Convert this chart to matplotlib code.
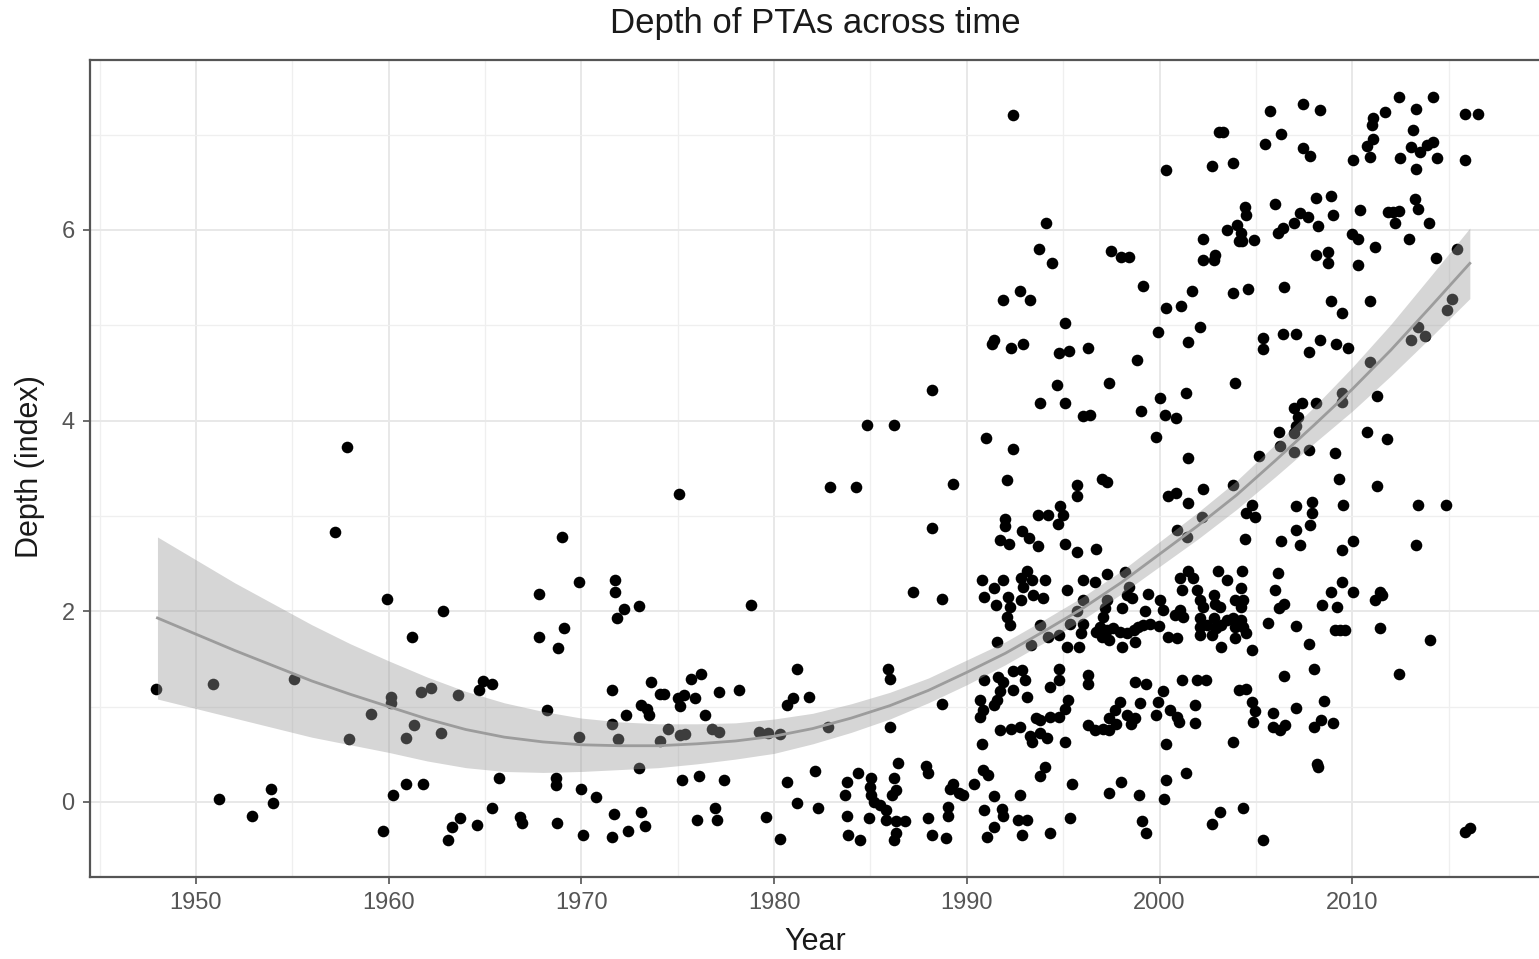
import matplotlib
matplotlib.use("Agg")
import matplotlib.pyplot as plt
import numpy as np
from matplotlib.ticker import MultipleLocator

plt.rcParams['font.family'] = ['Liberation Sans', 'DejaVu Sans']

# ---------------- data ----------------
year = [
 # 1945-1964
 1957.85,1957.2,1959.9,1962.8,1961.2,1947.9,1950.9,1955.1,1960.1,1960.1,1961.7,1962.2,1963.6,
 1959.1,1961.3,1962.7,1957.95,1960.9,1960.9,1961.8,1960.2,1951.2,1953.9,1954.0,1952.9,1959.7,
 1963.3,1963.1,1963.7,
 # 1964-1981
 1975.05,1969.0,1969.9,1967.8,1971.75,1971.75,1972.2,1971.85,1973.0,1978.8,1969.1,1967.8,1968.8,
 1964.7,1964.9,1965.35,1968.2,1971.6,1973.6,1974.1,1974.3,1973.1,1973.4,1973.5,1972.3,1971.6,
 1969.9,1971.9,1974.1,1974.5,1975.1,1975.4,1975.0,1975.3,1975.1,1975.9,1975.7,1976.2,1977.15,
 1978.2,1976.4,1976.75,1977.15,1979.2,1979.7,1980.3,1980.65,1973.0,1965.7,1968.7,1968.7,1970.0,
 1970.75,1975.2,1976.1,1977.4,1980.65,1965.35,1964.6,1966.8,1966.9,1968.75,1970.1,1971.7,1971.6,
 1972.4,1973.1,1973.3,1976.0,1976.95,1977.05,1979.6,1980.3,
 # 1980-1990
 1988.2,1984.8,1986.2,1982.9,1984.25,1989.3,1988.2,1987.2,1988.7,1981.2,1985.9,1986.0,1981.0,
 1981.8,1982.8,1986.0,1988.7,1986.45,1982.1,1984.35,1983.8,1983.7,1985.05,1984.97,1985.05,
 1985.2,1985.5,1985.8,1986.2,1986.3,1986.1,1981.2,1982.3,1983.8,1984.9,1985.8,1986.3,1986.8,
 1987.9,1988.0,1989.3,1989.6,1989.1,1989.0,1989.0,1988.0,1983.85,1984.45,1986.3,1986.2,1988.2,
 1988.9,
 # 1990-1997 upper
 1992.4,1994.1,1993.75,1994.4,1992.75,1991.85,1993.3,1995.1,1991.4,1991.3,1992.3,1992.9,
 1994.8,1995.3,1996.3,1997.35,1994.7,1993.8,1995.1,1996.05,1996.4,1991.0,1992.4,1992.1,1995.7,
 1995.7,1997.0,1997.25,1994.85,
 # 1990-1997 lower
 1995.0,1994.75,1993.7,1994.2,1992.0,1992.0,1991.7,1992.2,1992.85,1993.2,1993.7,1995.1,1995.7,
 1996.7,1990.8,1991.4,1990.9,1991.5,1991.9,1992.15,1992.25,1992.1,1992.25,1992.8,1993.1,1993.4,
 1992.9,1992.8,1994.05,1993.45,1993.95,1995.2,1996.05,1996.65,
 1991.55,1993.35,1993.8,1994.2,1994.8,1995.35,1995.7,1996.05,1995.9,1996.05,1996.7,1995.2,1995.8,
 1990.9,1991.6,1991.9,1992.4,1992.85,1993.0,1991.7,1992.4,1991.55,1990.7,1990.85,1990.7,1991.4,
 1993.1,1994.3,1994.8,1994.8,1996.3,1996.3,1995.25,1995.1,1994.8,1994.3,1993.8,1993.6,1991.7,
 1992.3,1992.75,1993.3,1993.8,1994.15,1993.4,1995.1,1996.3,1996.65,1990.8,1990.85,1991.1,
 1994.05,1993.8,1990.35,1989.8,1995.45,1991.4,1992.75,1990.9,1991.8,1991.9,1992.65,1993.1,
 1995.35,1991.4,1991.05,1992.85,1994.3,
 # 1997-2004 upper
 2003.1,2003.3,2000.35,2002.7,2003.8,2004.45,2004.5,2003.5,2004.0,2004.2,2004.1,2004.3,2002.25,
 2002.25,2002.9,2002.8,1997.5,1998.0,1998.4,1999.15,2001.7,2003.8,2004.6,2000.35,2001.1,1999.9,
 2002.1,2001.45,1998.85,2003.9,2000.0,2001.35,1999.05,2000.3,2000.85,1999.8,2001.45,2000.45,
 2000.85,2002.25,2001.5,2003.8,
 # 1997-2004 lower
 2004.5,2002.2,2000.9,2001.4,2004.45,1997.25,1998.2,1998.4,1998.3,1998.55,1999.4,2001.05,2001.5,
 2001.75,2001.15,2003.05,2003.5,2004.3,2004.2,2001.95,2002.1,2002.25,2002.8,2002.9,2003.15,
 2003.9,2004.2,2004.35,1997.25,1997.15,1997.05,1998.05,1999.25,2000.0,2000.2,2001.05,2001.2,
 2000.8,2002.1,2002.1,2002.1,2002.45,2002.8,2002.95,2002.7,2003.2,2003.5,2003.8,2003.9,2004.2,
 2004.35,2004.5,1996.9,1997.25,1997.6,1997.95,1998.3,1998.65,1998.9,1999.15,1999.5,1999.95,
 1997.0,1997.35,1998.05,1998.75,2000.45,2000.9,2003.2,2003.9,1998.75,1999.3,2001.15,2001.95,
 2002.4,2000.2,1999.9,1999.0,1997.95,1997.7,1997.4,1997.05,1997.4,1997.75,1998.3,1998.5,
 1998.75,1999.8,2000.55,2000.9,2001.0,2001.85,2001.85,2004.1,2004.5,2000.35,2003.8,2001.35,
 1998.0,1997.4,1998.95,2000.35,2000.25,1999.1,1999.3,2003.15,2002.7,2004.35,
 # 2004-2012 upper
 2005.75,2007.45,2008.3,2006.3,2005.45,2007.45,2007.8,2010.05,2011.1,2011.0,2011.1,2010.75,
 2010.9,2011.7,2006.0,2008.1,2008.9,2009.0,2010.4,2011.85,2007.3,2006.95,2006.4,2006.15,2007.7,
 2008.2,2004.9,2010.0,2010.3,2011.2,2008.1,2008.75,2008.75,2010.3,2006.45,2008.9,2009.45,
 2010.9,2005.35,2005.35,2006.4,2007.1,2008.3,2007.75,2009.15,2009.8,2010.9,2011.3,2009.45,
 2009.45,2008.1,2006.95,2007.4,2007.2,2007.1,2007.0,2006.2,2006.25,2006.95,2007.75,2009.1,
 2010.75,2011.8,2005.15,2009.3,2011.3,2004.8,2007.1,2007.9,2009.5,
 # 2004-2012 lower
 2004.95,2007.9,2007.8,2007.1,2007.3,2006.3,2009.45,2010.05,2006.15,2006.0,2006.2,2006.45,
 2005.65,2007.1,2007.75,2009.45,2008.9,2010.05,2009.2,2008.45,2011.45,2011.2,2009.1,2009.35,
 2009.6,2011.45,2004.8,2008.0,2006.45,2004.8,2004.95,2004.85,2005.9,2005.9,2006.25,2006.5,
 2007.1,2008.55,2008.0,2008.4,2009.0,2008.15,2008.2,2005.35,
 # 2011-2017
 2012.4,2014.2,2013.3,2015.85,2016.5,2013.15,2013.05,2013.5,2013.9,2014.2,2012.45,2013.3,
 2014.4,2015.85,2012.1,2012.4,2012.2,2013.25,2013.4,2014.0,2012.95,2014.35,2015.45,2015.15,
 2014.9,2013.4,2013.05,2013.75,2013.4,2014.85,2013.3,2011.55,2014.05,2012.4,2015.85,2016.1,
]

depth = [
 3.72,2.83,2.13,2.0,1.73,1.18,1.24,1.29,1.10,1.04,1.15,1.20,1.12,
 0.92,0.81,0.72,0.66,0.67,0.19,0.19,0.07,0.03,0.14,-0.01,-0.15,-0.30,
 -0.26,-0.40,-0.17,
 3.23,2.78,2.31,2.18,2.33,2.2,2.02,1.93,2.06,2.07,1.82,1.73,1.61,
 1.17,1.27,1.24,0.97,1.17,1.26,1.13,1.13,1.02,0.98,0.91,0.91,0.82,
 0.68,0.66,0.64,0.77,0.70,0.71,1.09,1.12,1.01,1.09,1.29,1.34,1.15,
 1.17,0.91,0.77,0.73,0.73,0.72,0.71,1.02,0.36,0.25,0.25,0.18,0.14,
 0.05,0.23,0.27,0.23,0.21,-0.06,-0.24,-0.16,-0.22,-0.22,-0.35,-0.13,-0.37,
 -0.30,-0.10,-0.25,-0.19,-0.06,-0.19,-0.16,-0.39,
 4.32,3.95,3.95,3.30,3.30,3.34,2.87,2.20,2.13,1.39,1.40,1.29,1.09,
 1.10,0.79,0.79,1.03,0.41,0.33,0.30,0.21,0.07,0.25,0.16,0.07,
 0.0,-0.03,-0.08,0.25,0.13,0.07,-0.01,-0.06,-0.15,-0.17,-0.19,-0.20,-0.20,
 0.38,0.30,0.19,0.09,0.14,-0.05,-0.15,-0.17,-0.35,-0.40,-0.33,-0.40,-0.35,
 -0.38,
 7.21,6.07,5.80,5.65,5.36,5.27,5.27,5.02,4.85,4.80,4.76,4.80,
 4.71,4.73,4.76,4.39,4.37,4.19,4.19,4.05,4.06,3.82,3.70,3.38,3.33,
 3.21,3.39,3.36,3.10,
 3.01,2.92,3.01,3.01,2.97,2.89,2.75,2.71,2.84,2.77,2.68,2.71,2.62,
 2.65,2.33,2.24,2.15,2.07,2.33,2.15,2.05,1.94,1.86,2.35,2.42,2.33,
 2.26,2.12,2.33,2.17,2.14,2.22,2.33,2.31,
 1.68,1.65,1.86,1.73,1.75,1.87,2.0,2.12,1.77,1.87,1.78,1.63,1.63,
 1.28,1.31,1.26,1.37,1.38,1.28,1.16,1.17,1.07,1.07,0.97,0.89,1.02,
 1.10,1.21,1.40,1.28,1.33,1.24,1.07,0.98,0.89,0.89,0.86,0.88,0.76,
 0.77,0.79,0.69,0.72,0.67,0.63,0.63,0.81,0.76,0.61,0.34,0.28,
 0.37,0.27,0.19,0.07,0.19,0.06,0.07,-0.08,-0.07,-0.15,-0.19,-0.19,
 -0.17,-0.26,-0.37,-0.35,-0.33,
 7.03,7.03,6.63,6.67,6.70,6.24,6.16,6.0,6.05,5.97,5.88,5.88,5.91,
 5.69,5.74,5.69,5.78,5.72,5.72,5.41,5.36,5.34,5.38,5.18,5.2,4.93,
 4.98,4.82,4.64,4.39,4.24,4.29,4.10,4.06,4.03,3.83,3.61,3.21,
 3.24,3.28,3.14,3.32,
 3.03,2.99,2.85,2.78,2.76,2.39,2.41,2.26,2.17,2.14,2.18,2.35,2.42,
 2.35,2.22,2.42,2.33,2.42,2.24,2.22,2.12,2.05,2.17,2.08,2.05,
 2.12,2.05,2.12,2.12,2.03,1.94,2.03,2.0,2.12,2.01,2.01,1.94,
 1.96,1.93,1.84,1.75,1.86,1.93,1.82,1.75,1.86,1.91,1.93,1.84,1.91,
 1.84,1.77,1.84,1.80,1.82,1.78,1.77,1.80,1.84,1.86,1.87,1.85,
 1.73,1.70,1.63,1.68,1.73,1.72,1.63,1.72,1.26,1.24,1.28,1.28,
 1.28,1.16,1.05,1.04,1.05,0.97,0.88,0.77,0.76,0.82,0.91,0.82,
 0.88,0.91,0.97,0.89,0.84,1.02,0.83,1.17,1.19,0.61,0.63,0.30,
 0.21,0.09,0.07,0.23,0.03,-0.2,-0.33,-0.10,-0.23,-0.06,
 7.25,7.32,7.26,7.01,6.90,6.86,6.78,6.73,7.17,7.10,6.95,6.88,
 6.77,7.24,6.27,6.34,6.36,6.16,6.21,6.19,6.18,6.07,6.02,5.97,6.14,
 6.04,5.89,5.96,5.91,5.82,5.74,5.77,5.65,5.63,5.40,5.25,5.13,
 5.25,4.87,4.75,4.91,4.91,4.85,4.72,4.80,4.76,4.62,4.26,4.29,
 4.20,4.18,4.13,4.18,4.04,3.94,3.87,3.88,3.73,3.67,3.69,3.66,
 3.88,3.81,3.63,3.39,3.31,3.12,3.10,3.15,3.12,
 2.99,3.03,2.91,2.85,2.70,2.74,2.64,2.74,2.40,2.22,2.03,2.08,
 1.88,1.85,1.66,2.31,2.20,2.20,2.04,2.07,2.20,2.12,1.80,1.80,
 1.80,1.82,1.59,1.40,1.32,1.05,0.95,0.84,0.93,0.79,0.76,0.81,
 0.99,1.06,0.79,0.86,0.83,0.40,0.37,-0.40,
 7.39,7.39,7.27,7.22,7.22,7.05,6.87,6.82,6.89,6.92,6.75,6.64,
 6.75,6.73,6.19,6.20,6.07,6.32,6.22,6.07,5.91,5.71,5.80,5.28,
 5.16,4.98,4.85,4.89,3.12,3.12,2.70,2.17,1.70,1.34,-0.32,-0.27,
]

# smoothing curve and its confidence band
smooth_year = [1948, 1950, 1952, 1954, 1956, 1958, 1960, 1962, 1964, 1966, 1968, 1970,
               1972, 1974, 1976, 1978, 1980, 1982, 1984, 1986, 1988, 1990, 1992, 1994,
               1996, 1998, 2000, 2002, 2004, 2006, 2008, 2010, 2012, 2014, 2016.1]
smooth_fit = [1.93, 1.76, 1.59, 1.43, 1.27, 1.13, 1.00, 0.87, 0.76, 0.68, 0.63, 0.60,
              0.59, 0.59, 0.61, 0.64, 0.69, 0.77, 0.88, 1.01, 1.17, 1.36, 1.56, 1.79,
              2.03, 2.30, 2.60, 2.90, 3.22, 3.58, 3.95, 4.33, 4.74, 5.18, 5.65]
smooth_se = [0.85, 0.78, 0.71, 0.65, 0.59, 0.53, 0.48, 0.44, 0.40, 0.36, 0.32, 0.28,
             0.25, 0.23, 0.21, 0.19, 0.18, 0.16, 0.15, 0.14, 0.13, 0.13, 0.12, 0.12,
             0.12, 0.12, 0.13, 0.14, 0.15, 0.17, 0.19, 0.23, 0.27, 0.32, 0.37]

x_ticks = [1950, 1960, 1970, 1980, 1990, 2000, 2010]
y_ticks = [0, 2, 4, 6]

# ---------------- figure ----------------
W, H = 1539, 959
fig = plt.figure(figsize=(W / 100, H / 100), dpi=100)
ax = fig.add_axes([90 / W, 82 / H, 1455 / W, 817 / H])

ax.scatter(year, depth, s=70, color='black', linewidths=0, zorder=2)

fit = np.array(smooth_fit)
se = np.array(smooth_se)
ax.fill_between(smooth_year, fit - se, fit + se, color='#999999', alpha=0.4,
                linewidth=0, zorder=3)
ax.plot(smooth_year, smooth_fit, color='#9c9c9c', linewidth=2.0, zorder=4)

ax.set_xlim(1944.5, 2020.0)
ax.set_ylim(-0.787, 7.783)

ax.set_xticks(x_ticks)
ax.set_yticks(y_ticks)
ax.xaxis.set_minor_locator(MultipleLocator(5))
ax.yaxis.set_minor_locator(MultipleLocator(1))
ax.set_xticklabels([str(t) for t in x_ticks])
ax.set_yticklabels([str(t) for t in y_ticks])

ax.grid(which='major', color='#E8E8E8', linewidth=1.4, zorder=0)
ax.grid(which='minor', color='#EFEFEF', linewidth=0.9, zorder=0)
ax.set_axisbelow(True)

for sp in ax.spines.values():
    sp.set_color('#555555')
    sp.set_linewidth(1.6)

ax.tick_params(which='major', length=5, width=1.1, color='#444444',
               labelsize=17, labelcolor='#555555', pad=6)
ax.tick_params(which='minor', length=0)

fig.text(815 / W, 1 - 24 / H, 'Depth of PTAs across time', ha='center', va='center',
         fontsize=25, color='#1a1a1a')
fig.text(815 / W, 1 - 942 / H, 'Year', ha='center', va='center',
         fontsize=22, color='#1a1a1a')
fig.text(30 / W, 1 - 467 / H, 'Depth (index)', ha='center', va='center',
         rotation=90, fontsize=22, color='#1a1a1a')

fig.savefig('out.png', dpi=100)
